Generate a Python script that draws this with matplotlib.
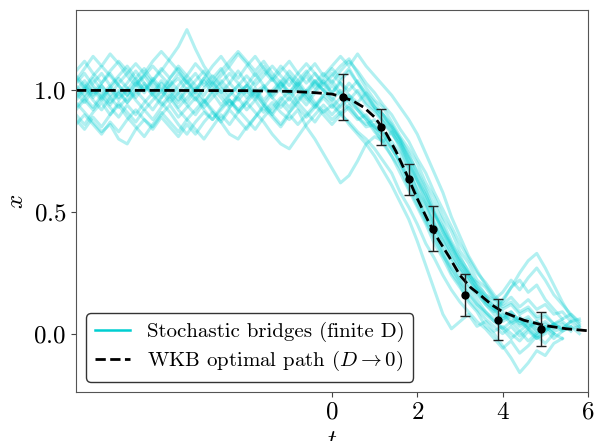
import numpy as np
import matplotlib
matplotlib.use("Agg")
import matplotlib.pyplot as plt
from matplotlib.lines import Line2D

plt.rcParams["font.family"] = "serif"
plt.rcParams["font.serif"] = ["cmr10"]
plt.rcParams["mathtext.fontset"] = "cm"
plt.rcParams["axes.unicode_minus"] = False
plt.rcParams["axes.formatter.use_mathtext"] = True

# stochastic bridges, sampled every 0.2 starting at t = -6
t_start = -6.0
t_step = 0.2

path_01 = [1.00, 1.04, 0.99, 1.03, 1.07, 1.02, 0.98, 1.03, 1.06, 1.01,
           0.97, 1.02, 1.05, 1.00, 0.96, 1.01, 1.04, 0.99, 1.03, 1.08,
           1.03, 0.99, 1.02, 0.97, 1.01, 1.05, 1.00, 0.96, 1.00, 1.04,
           0.99, 1.03, 0.98, 0.95, 0.99, 0.93, 0.90, 0.86, 0.80, 0.74,
           0.66, 0.59, 0.50, 0.44, 0.37, 0.31, 0.26, 0.20, 0.16, 0.12,
           0.09, 0.05, 0.07, 0.03, 0.05, 0.02, 0.04, 0.01, 0.03, 0.00]
path_02 = [0.95, 0.91, 0.87, 0.83, 0.86, 0.80, 0.78, 0.84, 0.88, 0.85,
           0.90, 0.94, 0.89, 0.93, 0.97, 0.92, 0.88, 0.93, 0.96, 0.91,
           0.95, 0.99, 0.94, 0.90, 0.95, 0.91, 0.96, 1.00, 0.95, 0.91,
           0.94, 0.90, 0.93, 0.89, 0.86, 0.88, 0.83, 0.79, 0.74, 0.66,
           0.59, 0.53, 0.45, 0.39, 0.33, 0.27, 0.22, 0.18, 0.13, 0.10,
           0.06, 0.08, 0.04, 0.06, 0.02, 0.04, 0.01, 0.02]
path_03 = [1.02, 0.98, 1.03, 1.07, 1.02, 1.06, 1.10, 1.05, 1.09, 1.04,
           1.08, 1.13, 1.18, 1.25, 1.17, 1.10, 1.05, 1.09, 1.03, 0.99,
           1.02, 0.97, 1.01, 1.05, 1.00, 0.96, 1.01, 0.97, 0.93, 0.98,
           1.02, 0.98, 1.03, 0.99, 0.94, 0.91, 0.87, 0.82, 0.78, 0.70,
           0.63, 0.55, 0.49, 0.42, 0.35, 0.30, 0.24, 0.21, 0.16, 0.14,
           0.10, 0.12, 0.08, 0.10, 0.06, 0.07, 0.04, 0.05, 0.02, 0.03]
path_04 = [0.97, 1.01, 0.96, 0.92, 0.97, 1.00, 0.95, 0.99, 1.03, 0.98,
           0.94, 0.98, 0.93, 0.97, 1.01, 0.96, 0.92, 0.88, 0.93, 0.97,
           0.92, 0.96, 0.91, 0.95, 0.91, 0.88, 0.92, 0.85, 0.80, 0.74,
           0.68, 0.62, 0.65, 0.71, 0.78, 0.81, 0.79, 0.83, 0.76, 0.68,
           0.58, 0.52, 0.44, 0.38, 0.31, 0.26, 0.20, 0.16, 0.12, 0.08,
           0.05, 0.07, 0.03, 0.05, 0.01, 0.03, 0.00]
path_05 = [0.90, 0.86, 0.91, 0.95, 0.90, 0.94, 0.89, 0.85, 0.81, 0.86,
           0.91, 0.87, 0.83, 0.88, 0.92, 0.96, 0.91, 0.87, 0.82, 0.80,
           0.85, 0.89, 0.94, 0.90, 0.86, 0.91, 0.95, 0.91, 0.87, 0.92,
           0.88, 0.91, 0.86, 0.82, 0.78, 0.73, 0.67, 0.61, 0.54, 0.47,
           0.38, 0.28, 0.18, 0.08, 0.02, 0.05, 0.08, 0.03, 0.05, 0.01,
           0.03, 0.00, -0.03, 0.01, -0.02, 0.00]
path_06 = [1.03, 1.07, 1.02, 0.98, 1.02, 0.97, 1.01, 0.96, 0.92, 0.96,
           1.00, 0.95, 0.99, 1.04, 0.99, 0.95, 0.99, 0.94, 0.98, 1.02,
           0.97, 1.01, 0.96, 1.00, 1.04, 0.99, 1.03, 0.98, 0.94, 0.98,
           0.95, 0.91, 0.94, 0.89, 0.85, 0.86, 0.80, 0.76, 0.70, 0.62,
           0.55, 0.47, 0.40, 0.33, 0.25, 0.20, 0.13, 0.09, 0.03, 0.00,
           -0.05, -0.10, -0.16, -0.12, -0.07, -0.09, -0.04, -0.02]
path_07 = [0.99, 0.95, 1.00, 0.96, 1.01, 1.05, 1.01, 0.97, 1.02, 0.98,
           1.03, 0.99, 0.95, 1.00, 1.04, 1.08, 1.03, 0.99, 0.94, 0.98,
           1.02, 1.07, 1.02, 0.98, 1.03, 0.99, 1.04, 1.08, 1.03, 1.00,
           1.04, 0.99, 0.96, 1.00, 0.95, 0.92, 0.88, 0.85, 0.79, 0.72,
           0.64, 0.57, 0.50, 0.42, 0.36, 0.29, 0.23, 0.17, 0.12, 0.09,
           0.13, 0.19, 0.25, 0.30, 0.33, 0.27, 0.20, 0.13, 0.07, 0.03]
path_08 = [0.93, 0.97, 1.01, 0.97, 0.93, 0.89, 0.94, 0.90, 0.95, 0.99,
           0.95, 0.91, 0.86, 0.82, 0.87, 0.91, 0.88, 0.92, 0.96, 0.92,
           0.88, 0.84, 0.89, 0.93, 0.97, 0.93, 0.98, 0.94, 0.99, 1.03,
           0.99, 1.04, 1.08, 1.03, 0.97, 0.93, 0.90, 0.85, 0.80, 0.73,
           0.67, 0.60, 0.53, 0.46, 0.38, 0.32, 0.25, 0.19, 0.13, 0.10,
           0.14, 0.19, 0.22, 0.17, 0.20, 0.14, 0.10, 0.06, 0.08, 0.04]
path_09 = [1.05, 1.01, 1.06, 1.10, 1.06, 1.02, 0.98, 1.03, 0.99, 1.04,
           1.00, 1.05, 1.09, 1.04, 1.00, 1.05, 1.10, 1.14, 1.09, 1.05,
           1.10, 1.14, 1.09, 1.05, 1.10, 1.06, 1.02, 1.07, 1.11, 1.06,
           1.10, 1.14, 1.10, 1.15, 1.10, 1.06, 1.02, 0.98, 0.93, 0.88,
           0.82, 0.74, 0.66, 0.58, 0.48, 0.40, 0.32, 0.26, 0.20, 0.15,
           0.11, 0.13, 0.09, 0.11, 0.07, 0.08, 0.04, 0.06]
path_10 = [0.96, 1.00, 1.05, 1.00, 0.95, 0.99, 1.03, 1.08, 1.03, 0.99,
           1.04, 1.00, 0.96, 1.01, 0.97, 0.93, 0.97, 1.01, 0.96, 0.92,
           0.96, 1.00, 0.95, 0.91, 0.96, 1.00, 0.95, 1.00, 1.04, 1.00,
           0.96, 1.00, 0.95, 0.92, 0.88, 0.84, 0.78, 0.73, 0.66, 0.59,
           0.52, 0.45, 0.37, 0.31, 0.24, 0.19, 0.14, 0.10, 0.06, 0.03,
           0.00, 0.03, -0.01, 0.02, -0.02, 0.01, 0.04, 0.02, 0.05]
path_11 = [0.88, 0.84, 0.89, 0.85, 0.90, 0.95, 0.91, 0.87, 0.92, 0.88,
           0.93, 0.97, 0.92, 0.88, 0.84, 0.80, 0.85, 0.90, 0.86, 0.91,
           0.95, 0.91, 0.87, 0.82, 0.78, 0.76, 0.81, 0.86, 0.90, 0.94,
           0.90, 0.94, 0.98, 0.93, 0.89, 0.85, 0.82, 0.77, 0.70, 0.64,
           0.56, 0.48, 0.42, 0.34, 0.27, 0.22, 0.16, 0.12, 0.08, 0.05,
           0.08, 0.04, 0.06, 0.02, -0.01, 0.02, -0.02, 0.01, 0.03]
path_12 = [1.08, 1.12, 1.07, 1.03, 1.08, 1.12, 1.08, 1.04, 1.00, 1.05,
           1.01, 0.97, 1.02, 1.06, 1.11, 1.07, 1.02, 1.06, 1.10, 1.15,
           1.11, 1.06, 1.10, 1.05, 1.01, 1.06, 1.02, 0.98, 1.03, 1.07,
           1.03, 1.08, 1.12, 1.08, 1.03, 0.99, 0.94, 0.90, 0.84, 0.79,
           0.72, 0.66, 0.58, 0.51, 0.44, 0.37, 0.31, 0.25, 0.21, 0.16,
           0.12, 0.15, 0.11, 0.14, 0.10, 0.12, 0.08, 0.09, 0.05, 0.06]
path_13 = [1.01, 0.97, 0.93, 0.98, 0.94, 0.99, 0.95, 1.00, 0.96, 0.92,
           0.97, 1.02, 0.98, 0.94, 0.90, 0.95, 1.00, 1.04, 1.00, 0.96,
           1.00, 0.96, 1.01, 0.97, 0.93, 0.97, 0.93, 0.89, 0.93, 0.97,
           0.93, 0.97, 0.92, 0.88, 0.90, 0.85, 0.82, 0.76, 0.71, 0.63,
           0.57, 0.49, 0.44, 0.36, 0.30, 0.23, 0.19, 0.14, 0.09, 0.06,
           0.02, -0.02, 0.01, -0.03, 0.00, 0.03, 0.00]
path_14 = [0.98, 1.02, 0.98, 1.02, 0.97, 0.93, 0.97, 1.01, 1.06, 1.10,
           1.06, 1.02, 1.07, 1.03, 0.99, 1.04, 0.99, 1.03, 1.07, 1.03,
           0.99, 1.04, 1.08, 1.04, 1.08, 1.12, 1.07, 1.03, 1.07, 1.02,
           1.06, 1.10, 1.13, 1.07, 1.01, 0.96, 0.93, 0.87, 0.81, 0.76,
           0.70, 0.62, 0.56, 0.48, 0.42, 0.34, 0.29, 0.22, 0.19, 0.14,
           0.17, 0.22, 0.18, 0.23, 0.27, 0.22, 0.16, 0.12, 0.08, 0.05]
path_15 = [1.04, 1.09, 1.14, 1.10, 1.15, 1.11, 1.06, 1.02, 1.07, 1.03,
           0.99, 1.04, 1.00, 0.95, 1.00, 1.05, 1.01, 0.97, 0.93, 0.98,
           1.02, 0.98, 0.94, 0.99, 1.03, 1.08, 1.04, 0.99, 1.04, 1.00,
           0.97, 0.93, 0.97, 0.92, 0.88, 0.83, 0.79, 0.73, 0.68, 0.60,
           0.53, 0.46, 0.39, 0.32, 0.27, 0.21, 0.17, 0.12, 0.09, 0.05,
           0.02, 0.05, 0.01, 0.04, 0.00, 0.02]
path_16 = [0.92, 0.96, 0.92, 0.97, 1.01, 0.96, 1.00, 1.05, 1.00, 1.04,
           1.09, 1.05, 1.10, 1.06, 1.02, 0.98, 1.03, 1.08, 1.12, 1.16,
           1.12, 1.08, 1.12, 1.07, 1.03, 0.98, 1.02, 1.06, 1.01, 1.05,
           1.09, 1.05, 1.09, 1.03, 0.99, 0.95, 0.90, 0.84, 0.79, 0.71,
           0.63, 0.57, 0.49, 0.43, 0.36, 0.29, 0.25, 0.19, 0.15, 0.11,
           0.07, 0.09, 0.05, 0.07, 0.03, 0.05, 0.02, 0.04, 0.01]
path_17 = [0.86, 0.90, 0.86, 0.82, 0.87, 0.83, 0.88, 0.92, 0.88, 0.84,
           0.89, 0.85, 0.81, 0.86, 0.82, 0.87, 0.91, 0.87, 0.92, 0.88,
           0.84, 0.89, 0.93, 0.89, 0.85, 0.90, 0.86, 0.90, 0.94, 0.90,
           0.86, 0.90, 0.87, 0.83, 0.80, 0.76, 0.71, 0.66, 0.58, 0.52,
           0.45, 0.37, 0.31, 0.24, 0.18, 0.13, 0.09, 0.05, 0.02, -0.02,
           -0.06, -0.03, -0.08, -0.05, -0.01, -0.04, 0.00, -0.02]
path_18 = [1.06, 1.02, 0.97, 1.02, 0.98, 1.03, 1.07, 1.11, 1.07, 1.12,
           1.16, 1.12, 1.08, 1.03, 1.07, 1.02, 1.06, 1.02, 0.98, 1.02,
           1.06, 1.02, 1.06, 1.10, 1.06, 1.02, 1.07, 1.11, 1.07, 1.03,
           1.07, 1.03, 1.00, 1.04, 0.98, 0.93, 0.87, 0.83, 0.77, 0.69,
           0.61, 0.54, 0.46, 0.40, 0.33, 0.27, 0.23, 0.18, 0.15, 0.10,
           0.06, 0.09, 0.05, 0.02, 0.05, 0.01, 0.04, 0.02, 0.05, 0.02]

bridges = [path_01, path_02, path_03, path_04, path_05, path_06, path_07,
           path_08, path_09, path_10, path_11, path_12, path_13, path_14,
           path_15, path_16, path_17, path_18]

# WKB optimal path
wkb_t = [-6, -4, -2, -1, -0.5, 0, 0.25, 0.5, 0.75, 1.0, 1.25, 1.5, 1.75,
         2.0, 2.25, 2.5, 2.75, 3.0, 3.25, 3.5, 3.75, 4.0, 4.5, 5.0, 5.5, 6.0]
wkb_x = [1.0, 1.0, 0.999, 0.996, 0.992, 0.985, 0.973, 0.956, 0.93, 0.89,
         0.83, 0.75, 0.655, 0.555, 0.465, 0.385, 0.315, 0.24, 0.19, 0.155,
         0.118, 0.09, 0.055, 0.033, 0.02, 0.012]

# ensemble mean and spread
mean_t = [0.27, 1.15, 1.81, 2.37, 3.13, 3.9, 4.9]
mean_x = [0.972, 0.849, 0.634, 0.431, 0.16, 0.058, 0.019]
std_x = [0.095, 0.073, 0.063, 0.093, 0.086, 0.083, 0.069]

fig = plt.figure(figsize=(6.08, 4.41), dpi=100)
ax = fig.add_axes([0.125, 0.111, 0.842, 0.866])

for path in bridges:
    t = t_start + t_step * np.arange(len(path))
    ax.plot(t, path, color="darkturquoise", alpha=0.3, lw=2.2)

ax.plot(wkb_t, wkb_x, "k--", lw=2)
ax.errorbar(mean_t, mean_x, yerr=std_x, fmt="o", color="black", ms=5,
            capsize=3.5, elinewidth=1, ecolor="#222222")

ax.set_xlim(-6, 6)
ax.set_ylim(-0.24, 1.33)
ax.set_xticks([0, 2, 4, 6])
ax.set_yticks([0.0, 0.5, 1.0])
ax.set_xlabel("$t$", fontsize=18)
ax.set_ylabel("$x$", fontsize=18)
ax.tick_params(labelsize=18, color="#444444")
for s in ax.spines.values():
    s.set_color("#555555")

handles = [Line2D([], [], color="darkturquoise", lw=1.8),
           Line2D([], [], color="black", ls="--", lw=2)]
labels = ["Stochastic bridges (finite D)", r"WKB optimal path ($D \to 0$)"]
leg = ax.legend(handles, labels, loc="lower left", fontsize=15,
                handlelength=1.7, labelspacing=0.35,
                edgecolor="#333333", framealpha=1)

fig.savefig("out.png", dpi=100)
